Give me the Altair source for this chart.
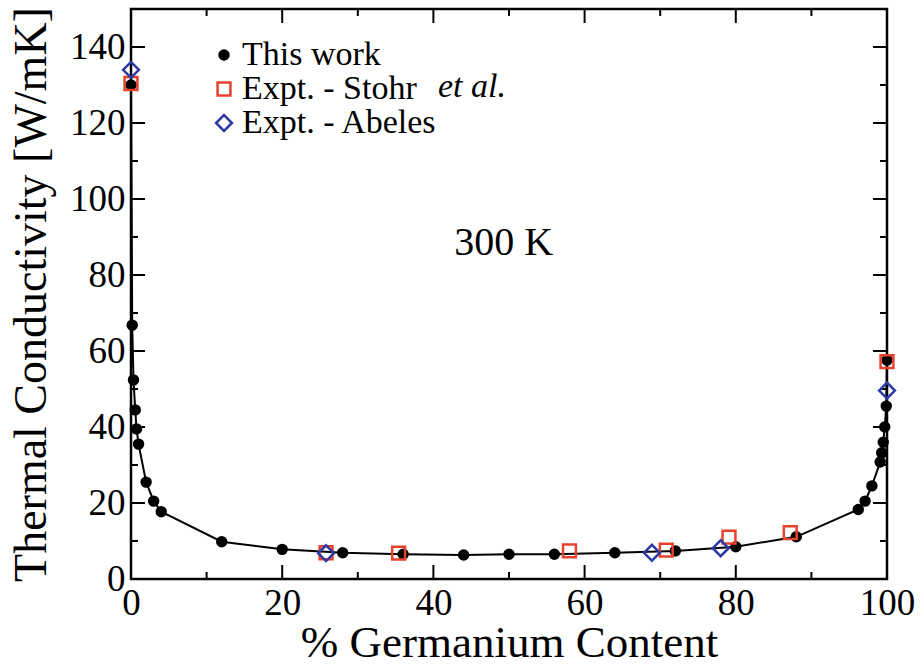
import altair as alt
import pandas as pd

# Thermal conductivity of Si(1-x)Ge(x) alloys at 300 K
ge_this = [0, 0.16, 0.33, 0.56, 0.73, 1.0, 2.0, 3.0, 4.0, 12, 20, 28, 36, 44, 50, 56,
           64, 72, 80, 88, 96.2, 97.1, 98, 99.1, 99.3, 99.5, 99.7, 99.9, 100]
k_this = [130, 66.8, 52.4, 44.5, 39.5, 35.5, 25.5, 20.5, 17.7, 9.8, 7.8, 6.9, 6.5, 6.3, 6.5, 6.5,
          6.9, 7.4, 8.5, 11.1, 18.3, 20.5, 24.5, 30.8, 33.2, 36.0, 40.0, 45.5, 57.6]

ge_stohr = [0, 25.8, 35.4, 58.0, 70.8, 79.1, 87.2, 100]
k_stohr = [130.4, 6.9, 6.8, 7.4, 7.6, 11.0, 12.2, 57.2]

ge_abeles = [0, 25.8, 68.9, 78.0, 100]
k_abeles = [134, 6.8, 6.9, 8.1, 49.6]

series_names = ["This work", "Expt. - Stohr", "Expt. - Abeles"]
series_stroke = ["black", "#e8412c", "#2b3aa6"]
series_fill = ["black", "transparent", "transparent"]
series_shape = ["circle", "square", "diamond"]
series_size = [80, 250, 320]

x_major = [0, 20, 40, 60, 80, 100]
x_minor = [10, 30, 50, 70, 90]
y_major = [0, 20, 40, 60, 80, 100, 120, 140]
y_minor = [10, 30, 50, 70, 90, 110, 130]

W, H = 756, 570
FONT = "Liberation Serif"

rows = []
for name, xs, ys in zip(series_names, [ge_this, ge_stohr, ge_abeles],
                        [k_this, k_stohr, k_abeles]):
    for i, (gx, ky) in enumerate(zip(xs, ys)):
        rows.append({"series": name, "ge": gx, "k": ky, "idx": i})
df = pd.DataFrame(rows)
df_this = df[df.series == "This work"]

x_scale = alt.Scale(domain=[0, 100], nice=False, zero=False)
y_scale = alt.Scale(domain=[0, 150], nice=False, zero=False)

x_enc = alt.X("ge:Q", scale=x_scale,
              axis=alt.Axis(values=x_major, format="d", title="% Germanium Content",
                            ticks=False, tickSize=0, domain=False, grid=False,
                            labelFlush=False, labelOverlap=False,
                            labelFont=FONT, labelFontSize=37, labelColor="black",
                            labelPadding=6, titleFont=FONT, titleFontSize=45,
                            titleFontWeight="normal", titleColor="black",
                            titleBaseline="alphabetic", titleY=77))
y_enc = alt.Y("k:Q", scale=y_scale,
              axis=alt.Axis(values=y_major, format="d", title="Thermal Conductivity [W/mK]",
                            ticks=False, tickSize=0, domain=False, grid=False,
                            labelFlush=False, labelOverlap=False,
                            labelFont=FONT, labelFontSize=37, labelColor="black",
                            labelPadding=6, titleFont=FONT, titleFontSize=46,
                            titleFontWeight="normal", titleColor="black", titlePadding=14))

line = alt.Chart(df_this).mark_line(color="black", strokeWidth=2).encode(
    x=x_enc, y=y_enc, order="idx:Q")

legend = alt.Legend(title=None, orient="none", legendX=76, legendY=29,
                    labelFont=FONT, labelFontSize=34, labelColor="black",
                    labelOffset=1, padding=0, rowPadding=0, symbolStrokeWidth=2.5,
                    labelLimit=400)

points = alt.Chart(df).mark_point(strokeWidth=2.5, opacity=1).encode(
    x=alt.X("ge:Q", scale=x_scale),
    y=alt.Y("k:Q", scale=y_scale),
    shape=alt.Shape("series:N", scale=alt.Scale(domain=series_names, range=series_shape),
                    legend=legend),
    stroke=alt.Stroke("series:N", scale=alt.Scale(domain=series_names, range=series_stroke),
                      legend=legend),
    fill=alt.Fill("series:N", scale=alt.Scale(domain=series_names, range=series_fill),
                  legend=legend),
    size=alt.Size("series:N", scale=alt.Scale(domain=series_names, range=series_size),
                  legend=legend),
)

# Frame ticks, pointing inward on all four sides
def x_ticks(vals, length):
    d = pd.DataFrame({"ge": vals})
    bottom = alt.Chart(d).mark_rule(color="black", strokeWidth=2).encode(
        x=alt.X("ge:Q", scale=x_scale), y=alt.value(H), y2=alt.value(H - length))
    top = alt.Chart(d).mark_rule(color="black", strokeWidth=2).encode(
        x=alt.X("ge:Q", scale=x_scale), y=alt.value(0), y2=alt.value(length))
    return [bottom, top]

def y_ticks(vals, length):
    d = pd.DataFrame({"k": vals})
    left = alt.Chart(d).mark_rule(color="black", strokeWidth=2).encode(
        y=alt.Y("k:Q", scale=y_scale), x=alt.value(0), x2=alt.value(length))
    right = alt.Chart(d).mark_rule(color="black", strokeWidth=2).encode(
        y=alt.Y("k:Q", scale=y_scale), x=alt.value(W), x2=alt.value(W - length))
    return [left, right]

ticks = x_ticks(x_major, 14) + x_ticks(x_minor, 7) + y_ticks(y_major, 14) + y_ticks(y_minor, 7)

ann = pd.DataFrame({
    "ge": [49.3, 40.6],
    "k": [88.3, 129.4],
    "label": ["300 K", "et al."],
})
temp_label = alt.Chart(ann.iloc[[0]]).mark_text(
    font=FONT, fontSize=40, color="black", baseline="middle", align="center"
).encode(x=alt.X("ge:Q", scale=x_scale), y=alt.Y("k:Q", scale=y_scale), text="label:N")
etal = alt.Chart(ann.iloc[[1]]).mark_text(
    font=FONT, fontSize=34, fontStyle="italic", color="black", baseline="middle", align="left"
).encode(x=alt.X("ge:Q", scale=x_scale), y=alt.Y("k:Q", scale=y_scale), text="label:N")

chart = alt.layer(line, *ticks, points, temp_label, etal).properties(
    width=W, height=H,
    autosize=alt.AutoSizeParams(type="none"),
    padding={"left": 131, "top": 9, "right": 37, "bottom": 87},
    background="white",
).configure(font=FONT).configure_view(stroke="black", strokeWidth=2.5)

chart.save("out.html", embed_options={"renderer": "svg", "actions": False})
